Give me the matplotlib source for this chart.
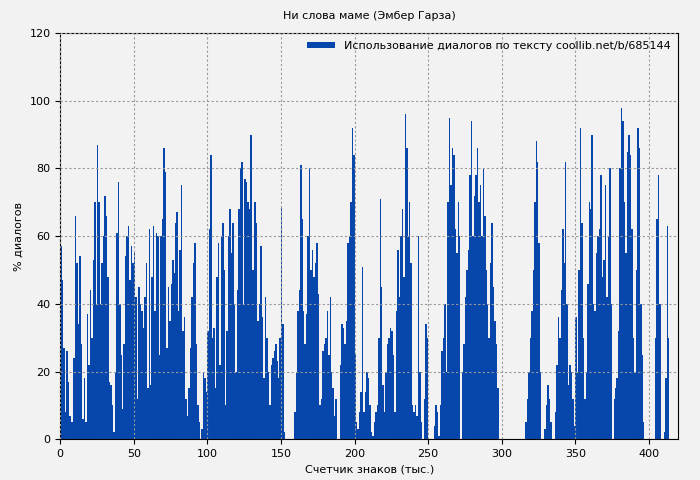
import numpy as np
import matplotlib.pyplot as plt

# % of dialogue per 1000 characters
d000 = [57, 47, 27, 8, 26, 17, 7, 5, 5, 24]
d010 = [66, 52, 34, 54, 28, 6, 18, 5, 37, 22]
d020 = [44, 30, 53, 70, 40, 87, 70, 40, 52, 60]
d030 = [72, 66, 48, 17, 16, 10, 2, 20, 61, 76]
d040 = [40, 25, 9, 28, 54, 60, 63, 47, 57, 52]
d050 = [55, 42, 12, 45, 40, 38, 33, 42, 52, 15]
d060 = [62, 16, 48, 63, 38, 61, 60, 25, 60, 65]
d070 = [86, 79, 27, 45, 35, 46, 53, 49, 64, 67]
d080 = [38, 56, 75, 32, 36, 12, 7, 15, 27, 42]
d090 = [52, 58, 28, 10, 5, 0, 3, 20, 18, 14]
d100 = [32, 62, 84, 30, 33, 15, 48, 58, 22, 60]
d110 = [64, 50, 10, 32, 60, 68, 55, 64, 40, 20]
d120 = [44, 68, 80, 82, 40, 77, 76, 70, 68, 90]
d130 = [50, 50, 70, 64, 35, 40, 57, 36, 18, 42]
d140 = [30, 20, 10, 22, 24, 26, 28, 23, 18, 30]
d150 = [69, 34, 2, 0, 0, 0, 0, 0, 0, 8]
d160 = [20, 38, 44, 81, 65, 38, 28, 37, 60, 80]
d170 = [50, 56, 48, 52, 58, 43, 10, 12, 26, 28]
d180 = [30, 38, 25, 42, 20, 15, 7, 12, 0, 0]
d190 = [22, 34, 33, 28, 35, 58, 60, 70, 92, 84]
d200 = [25, 5, 3, 8, 14, 51, 8, 14, 20, 18]
d210 = [10, 2, 1, 5, 8, 10, 30, 71, 45, 16]
d220 = [8, 20, 28, 30, 33, 32, 25, 8, 38, 56]
d230 = [42, 60, 68, 48, 96, 86, 60, 70, 52, 10]
d240 = [8, 10, 7, 60, 20, 5, 0, 12, 34, 30]
d250 = [0, 0, 0, 0, 4, 10, 8, 1, 10, 26]
d260 = [30, 40, 20, 70, 95, 75, 86, 84, 62, 55]
d270 = [70, 60, 0, 20, 28, 42, 50, 56, 78, 94]
d280 = [60, 72, 78, 86, 70, 75, 60, 80, 66, 50]
d290 = [40, 30, 52, 64, 45, 35, 28, 15, 0, 0]
d300 = [0, 0, 0, 0, 0, 0, 0, 0, 0, 0]
d310 = [0, 0, 0, 0, 0, 0, 5, 12, 20, 30]
d320 = [38, 50, 70, 88, 82, 58, 20, 0, 0, 3]
d330 = [10, 16, 12, 5, 0, 0, 8, 22, 36, 30]
d340 = [44, 62, 52, 82, 40, 16, 22, 20, 12, 4]
d350 = [36, 20, 50, 92, 64, 30, 12, 20, 46, 70]
d360 = [68, 90, 40, 38, 55, 60, 62, 78, 48, 53]
d370 = [75, 42, 60, 80, 40, 0, 12, 15, 18, 32]
d380 = [80, 98, 94, 70, 55, 85, 90, 84, 62, 30]
d390 = [20, 50, 92, 86, 40, 25, 5, 0, 0, 0]
d400 = [0, 0, 0, 0, 30, 65, 78, 40, 0, 0]
d410 = [2, 18, 63, 30]

values = (d000 + d010 + d020 + d030 + d040 + d050 + d060 + d070 + d080 + d090
          + d100 + d110 + d120 + d130 + d140 + d150 + d160 + d170 + d180 + d190
          + d200 + d210 + d220 + d230 + d240 + d250 + d260 + d270 + d280 + d290
          + d300 + d310 + d320 + d330 + d340 + d350 + d360 + d370 + d380 + d390
          + d400 + d410)
positions = np.arange(len(values))

bg = '#f2f2f2'
blue = '#0747ab'

fig = plt.figure(figsize=(7, 4.8), dpi=100)
fig.patch.set_facecolor(bg)
ax = fig.add_axes([0.086, 0.085, 0.883, 0.846])
ax.set_facecolor(bg)

ax.bar(positions, values, width=1.0, align='edge', color=blue, linewidth=0,
       label='Использование диалогов по тексту coollib.net/b/685144')

ax.set_xlim(0, 420)
ax.set_ylim(0, 120)
ax.set_xticks(np.arange(0, 401, 50))
ax.set_yticks(np.arange(0, 121, 20))
ax.tick_params(labelsize=8)
ax.grid(True, linestyle=(0, (2, 2)), color='#999999', linewidth=0.8)
ax.set_axisbelow(False)

ax.set_title('Ни слова маме (Эмбер Гарза)', fontsize=8, pad=10)
ax.set_xlabel('Счетчик знаков (тыс.)', fontsize=8)
ax.set_ylabel('% диалогов', fontsize=8)
leg = ax.legend(loc='upper right', fontsize=8, frameon=False,
                handlelength=2.5, handleheight=0.5, borderaxespad=0.3)

fig.savefig('out.png', dpi=100, facecolor=bg)
